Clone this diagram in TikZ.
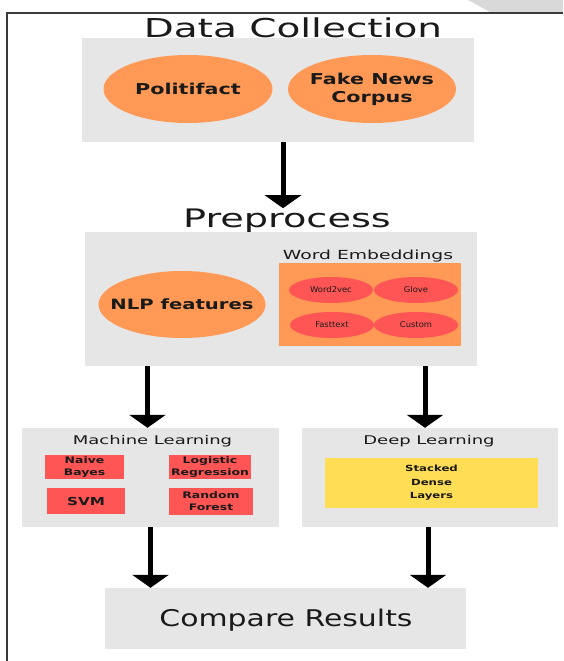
\documentclass[tikz,border=0pt]{standalone}
\usepackage{fontspec}
\usetikzlibrary{shapes.geometric,arrows.meta}
\newfontfamily\fH[FakeStretch=1.5]{DejaVu Sans}
\newfontfamily\fC[FakeStretch=1.3]{DejaVu Sans}
\newfontfamily\fI[FakeStretch=1.38]{DejaVu Sans}
\newfontfamily\fS[FakeStretch=1.05]{DejaVu Sans}
\definecolor{boxgray}{HTML}{E6E6E6}
\definecolor{orng}{HTML}{FF9955}
\definecolor{redf}{HTML}{FF5555}
\definecolor{yelf}{HTML}{FFDD55}
\definecolor{txt}{HTML}{1A1A1A}
\definecolor{frame}{HTML}{3A3A3A}
\begin{document}
\begin{tikzpicture}[x=1pt,y=-1pt,
  panel/.style={rectangle,fill=boxgray,draw=none,inner sep=0pt},
  heading/.style={anchor=base,inner sep=0pt,text=txt},
  bigell/.style={ellipse,fill=orng,draw=none,inner sep=0pt,minimum width=168pt,minimum height=68pt},
  elltext/.style={text=txt,align=center,inner sep=0pt,font=\fI\bfseries\fontsize{15}{18}\selectfont},
  smallell/.style={ellipse,fill=redf,draw=none,inner sep=0pt,minimum width=84pt,minimum height=26pt},
  smalltext/.style={text=txt,inner sep=0pt,font=\fS\fontsize{8}{9}\selectfont},
  mlbox/.style={rectangle,fill=redf,draw=none,inner sep=0pt,text=txt,align=center,
     font=\fI\bfseries\fontsize{9}{12}\selectfont},
  flowarrow/.style={line width=5pt,-{Triangle[width=36pt,length=13pt]},black}
]
\useasboundingbox (0,0) rectangle (563,661);
\fill[white] (0,0) rectangle (563,661);
% watermark corner
\fill[gray!30] (468,0) -- (563,0) -- (563,12) -- (490,12) -- cycle;
% frame
\draw[frame,line width=1.5pt] (7,661) -- (7,13) -- (563,13);

% Data collection
\node[heading,font=\fH\fontsize{26}{31}\selectfont] (t1) at (293,38) {Data Collection};
\node[panel,minimum width=392pt,minimum height=104pt] (box1) at (278,90) {};
\node[bigell,minimum width=169pt,label={[elltext]center:Politifact}] (pf) at (188,89) {};
\node[bigell,label={[elltext]center:Fake News\\Corpus}] (fnc) at (372,89) {};

% Preprocess
\node[heading,font=\fH\fontsize{25.5}{31}\selectfont] (t2) at (287,227) {Preprocess};
\draw[flowarrow] ([xshift=5pt]box1.south) -- ([xshift=5pt]box1.south |- t2.north);
\node[panel,minimum width=392pt,minimum height=134pt] (box2) at (281,299) {};
\node[bigell,minimum width=167pt,minimum height=67pt,
  label={[elltext,font=\fI\bfseries\fontsize{14.2}{17}\selectfont]center:NLP features}] (nlp) at (182,304.5) {};
\node[heading,font=\fH\fontsize{12.5}{15}\selectfont] (we) at (368,259) {Word Embeddings};
\node[rectangle,fill=orng,draw=none,inner sep=0pt,minimum width=182pt,minimum height=83pt] (werect) at (370,304.5) {};
\node[smallell,label={[smalltext]center:Word2vec}] (w2v) at (331,290) {};
\node[smallell,label={[smalltext]center:Glove}] (glove) at (416,290) {};
\node[smallell,label={[smalltext]center:Fasttext}] (fast) at (332,325) {};
\node[smallell,label={[smalltext]center:Custom}] (cust) at (416,325) {};

% Machine learning
\node[panel,minimum width=257pt,minimum height=99pt] (ml) at (150.5,477.5) {};
\node[heading,font=\fH\fontsize{12}{15}\selectfont] (mlt) at (152.5,444) {Machine Learning};
\node[mlbox,minimum width=79pt,minimum height=24pt] (nb) at (84.5,467) {Naive\\Bayes};
\node[mlbox,minimum width=82pt,minimum height=24pt] (lr) at (210,467) {Logistic\\Regression};
\node[mlbox,minimum width=78pt,minimum height=26pt,font=\fI\bfseries\fontsize{11}{13}\selectfont] (svm) at (86,501) {SVM};
\node[mlbox,minimum width=84pt,minimum height=27pt] (rf) at (211,501.5) {Random\\Forest};

% Deep learning
\node[panel,minimum width=256pt,minimum height=99pt] (dl) at (430,477.5) {};
\node[heading,font=\fH\fontsize{12}{15}\selectfont] (dlt) at (429,444) {Deep Learning};
\node[rectangle,fill=yelf,draw=none,inner sep=0pt,minimum width=213pt,minimum height=50pt,
  text=txt,align=center,font=\fI\bfseries\fontsize{8.5}{13.5}\selectfont] (sdl) at (431.5,483) {Stacked\\Dense\\Layers};

% arrows from preprocess
\draw[flowarrow] (ml.north |- box2.south) ++(-3pt,0) -- ([xshift=-3pt]ml.north);
\draw[flowarrow] (dl.north |- box2.south) ++(-5pt,0) -- ([xshift=-5pt]dl.north);

% Compare
\node[panel,minimum width=361pt,minimum height=61pt] (cmp) at (285.5,618.5) {};
\node[heading,font=\fC\fontsize{23}{28}\selectfont] (cmpt) at (286,626) {Compare Results};
\draw[flowarrow] (ml.south) -- (ml.south |- cmp.north);
\draw[flowarrow] ([xshift=-2pt]dl.south) -- ([xshift=-2pt]dl.south |- cmp.north);
\end{tikzpicture}
\end{document}
